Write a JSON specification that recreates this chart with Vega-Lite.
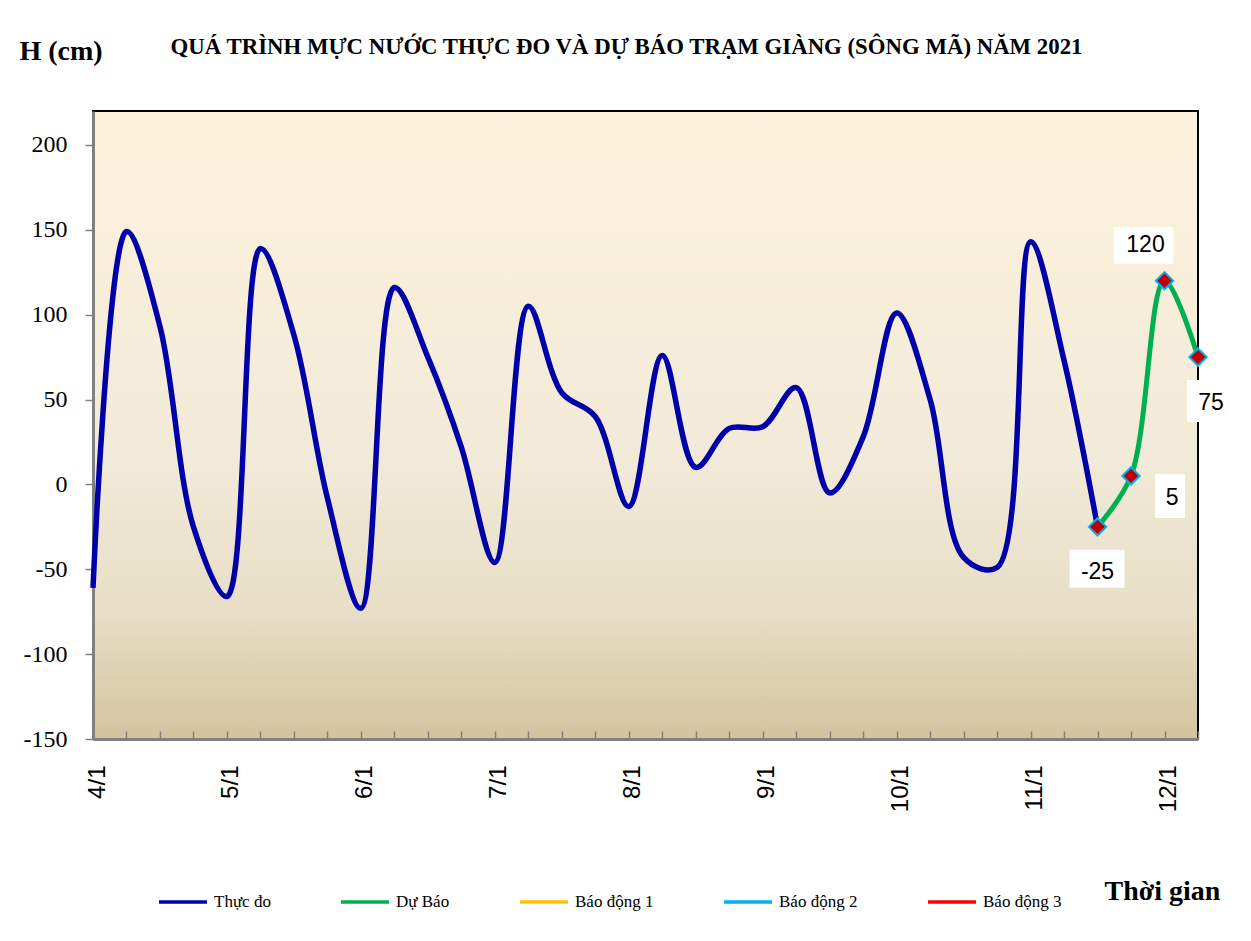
{
  "$schema": "https://vega.github.io/schema/vega-lite/v6.json",
  "width": 1105,
  "height": 628,
  "autosize": {"type": "none"},
  "padding": {"left": 93, "top": 111, "right": 53, "bottom": 202},
  "background": "white",
  "title": {
    "text": "QUÁ TRÌNH MỰC NƯỚC THỰC ĐO VÀ DỰ BÁO TRẠM GIÀNG (SÔNG MÃ) NĂM 2021",
    "font": "Liberation Serif",
    "fontSize": 22.8,
    "fontWeight": "bold",
    "color": "#000000",
    "anchor": "middle",
    "frame": "group",
    "offset": -22,
    "dx": -19
  },
  "config": {
    "view": {
      "stroke": "#000000",
      "strokeWidth": 2,
      "fill": {
        "gradient": "linear",
        "x1": 0, "y1": 0, "x2": 0, "y2": 1,
        "stops": [
          {"offset": 0, "color": "#FDF2DC"},
          {"offset": 0.55, "color": "#F2EAD8"},
          {"offset": 0.8, "color": "#E8DEC6"},
          {"offset": 1, "color": "#D3C49E"}
        ]
      }
    },
    "axis": {"grid": false}
  },
  "datasets": {
    "obs": [
      {"t": "2021-01-04T00:00:00", "h": -61, "s": "Thực đo"},
      {"t": "2021-01-04T06:00:00", "h": 149, "s": "Thực đo"},
      {"t": "2021-01-04T12:00:00", "h": 93, "s": "Thực đo"},
      {"t": "2021-01-04T18:00:00", "h": -25, "s": "Thực đo"},
      {"t": "2021-01-05T00:00:00", "h": -66, "s": "Thực đo"},
      {"t": "2021-01-05T06:00:00", "h": 139, "s": "Thực đo"},
      {"t": "2021-01-05T12:00:00", "h": 88, "s": "Thực đo"},
      {"t": "2021-01-05T18:00:00", "h": -8, "s": "Thực đo"},
      {"t": "2021-01-06T00:00:00", "h": -73, "s": "Thực đo"},
      {"t": "2021-01-06T06:00:00", "h": 116, "s": "Thực đo"},
      {"t": "2021-01-06T12:00:00", "h": 75, "s": "Thực đo"},
      {"t": "2021-01-06T18:00:00", "h": 22, "s": "Thực đo"},
      {"t": "2021-01-07T00:00:00", "h": -46, "s": "Thực đo"},
      {"t": "2021-01-07T06:00:00", "h": 105, "s": "Thực đo"},
      {"t": "2021-01-07T12:00:00", "h": 54, "s": "Thực đo"},
      {"t": "2021-01-07T18:00:00", "h": 40, "s": "Thực đo"},
      {"t": "2021-01-08T00:00:00", "h": -13, "s": "Thực đo"},
      {"t": "2021-01-08T06:00:00", "h": 76, "s": "Thực đo"},
      {"t": "2021-01-08T12:00:00", "h": 10, "s": "Thực đo"},
      {"t": "2021-01-08T18:00:00", "h": 33, "s": "Thực đo"},
      {"t": "2021-01-09T00:00:00", "h": 34, "s": "Thực đo"},
      {"t": "2021-01-09T06:00:00", "h": 57, "s": "Thực đo"},
      {"t": "2021-01-09T12:00:00", "h": -5, "s": "Thực đo"},
      {"t": "2021-01-09T18:00:00", "h": 28, "s": "Thực đo"},
      {"t": "2021-01-10T00:00:00", "h": 101, "s": "Thực đo"},
      {"t": "2021-01-10T06:00:00", "h": 50, "s": "Thực đo"},
      {"t": "2021-01-10T12:00:00", "h": -43, "s": "Thực đo"},
      {"t": "2021-01-10T18:00:00", "h": -49, "s": "Thực đo"},
      {"t": "2021-01-11T00:00:00", "h": 143, "s": "Thực đo"},
      {"t": "2021-01-11T06:00:00", "h": 73, "s": "Thực đo"},
      {"t": "2021-01-11T12:00:00", "h": -25, "s": "Thực đo"}
    ],
    "fc": [
      {"t": "2021-01-11T12:00:00", "h": -25, "s": "Dự Báo"},
      {"t": "2021-01-11T18:00:00", "h": 5, "s": "Dự Báo"},
      {"t": "2021-01-12T00:00:00", "h": 120, "s": "Dự Báo"},
      {"t": "2021-01-12T06:00:00", "h": 75, "s": "Dự Báo"}
    ]
  },
  "encoding": {
    "x": {
      "field": "t",
      "type": "temporal",
      "scale": {
        "domain": [
          {"year": 2021, "month": 1, "date": 4, "hours": 0},
          {"year": 2021, "month": 1, "date": 12, "hours": 6}
        ]
      },
      "axis": {
        "title": "Thời gian",
        "titleFont": "Liberation Serif",
        "titleFontSize": 28,
        "titleFontWeight": "bold",
        "titleColor": "#000000",
        "titleAngle": 0,
        "titleAlign": "left",
        "titleBaseline": "alphabetic",
        "titleX": 1011,
        "titleY": 160,
        "labelExpr": "hours(datum.value) == 0 ? timeFormat(datum.value, '%-d/%-m') : ''",
        "labelOverlap": false,
        "labelFlush": false,
        "labelAngle": 270,
        "labelAlign": "right",
        "labelBaseline": "middle",
        "labelFont": "Liberation Sans",
        "labelFontSize": 24,
        "labelColor": "#000000",
        "labelPadding": 34,
        "labelOffset": 4,
        "tickSize": -8,
        "tickColor": "#808080",
        "tickWidth": 1.5,
        "domainColor": "#808080",
        "domainWidth": 3
      }
    },
    "y": {
      "field": "h",
      "type": "quantitative",
      "scale": {"domain": [-150, 220], "nice": false, "zero": false},
      "axis": {
        "title": "H (cm)",
        "titleFont": "Liberation Serif",
        "titleFontSize": 28,
        "titleFontWeight": "bold",
        "titleColor": "#000000",
        "titleAngle": 0,
        "titleAlign": "left",
        "titleBaseline": "alphabetic",
        "titleX": -74,
        "titleY": -52,
        "values": [-150, -100, -50, 0, 50, 100, 150, 200],
        "labelExpr": "datum.value < 0 ? '-' + abs(datum.value) : '' + datum.value",
        "labelFont": "Liberation Serif",
        "labelFontSize": 24,
        "labelColor": "#000000",
        "labelPadding": 18,
        "tickSize": 8,
        "tickColor": "#808080",
        "tickWidth": 1.5,
        "domainColor": "#808080",
        "domainWidth": 3
      }
    }
  },
  "layer": [
    {
      "data": {"name": "obs"},
      "mark": {"type": "line", "interpolate": "catmull-rom", "strokeWidth": 5.5},
      "encoding": {
        "color": {
          "field": "s",
          "type": "nominal",
          "scale": {
            "domain": ["Thực đo", "Dự Báo", "Báo động 1", "Báo động 2", "Báo động 3"],
            "range": ["#0000A8", "#00B050", "#FFC000", "#00B0F0", "#FF0000"]
          },
          "legend": {
            "title": null,
            "orient": "none",
            "direction": "horizontal",
            "legendX": 64,
            "legendY": 765,
            "padding": 0,
            "symbolType": "stroke",
            "symbolSize": 2300,
            "symbolStrokeWidth": 3.5,
            "labelFont": "Liberation Serif",
            "labelFontSize": 17,
            "labelColor": "#000000",
            "labelOffset": 5,
            "columnPadding": 63
          }
        }
      }
    },
    {
      "data": {"name": "fc"},
      "mark": {"type": "line", "interpolate": "catmull-rom", "strokeWidth": 5},
      "encoding": {"color": {"field": "s", "type": "nominal"}}
    },
    {
      "data": {"name": "fc"},
      "transform": [{"filter": "datum.h == -25"}],
      "mark": {"type": "point", "filled": true, "fill": "#FFFFFF", "strokeWidth": 0, "opacity": 1, "size": 400, "shape": "M -2.8 2.3 L 2.7 2.3 L 2.7 6.1 L -2.8 6.1 Z"}
    },
    {
      "data": {"name": "fc"},
      "transform": [{"filter": "datum.h == 5"}],
      "mark": {"type": "point", "filled": true, "fill": "#FFFFFF", "strokeWidth": 0, "opacity": 1, "size": 400, "shape": "M 2.4 -0.2 L 5.4 -0.2 L 5.4 4.2 L 2.4 4.2 Z"}
    },
    {
      "data": {"name": "fc"},
      "transform": [{"filter": "datum.h == 120"}],
      "mark": {"type": "point", "filled": true, "fill": "#FFFFFF", "strokeWidth": 0, "opacity": 1, "size": 400, "shape": "M -5.1 -5.4 L 0.9 -5.4 L 0.9 -1.7 L -5.1 -1.7 Z"}
    },
    {
      "data": {"name": "fc"},
      "transform": [{"filter": "datum.h == 75"}],
      "mark": {"type": "point", "filled": true, "fill": "#FFFFFF", "strokeWidth": 0, "opacity": 1, "size": 400, "shape": "M -1.1 2.3 L 3 2.3 L 3 6.5 L -1.1 6.5 Z"}
    },
    {
      "data": {"name": "fc"},
      "mark": {"type": "point", "shape": "diamond", "filled": true, "fill": "#C00000", "stroke": "#00B0F0", "strokeWidth": 2, "opacity": 1, "size": 300}
    },
    {
      "data": {"name": "fc"},
      "transform": [{"filter": "datum.h == -25"}],
      "mark": {"type": "text", "font": "Liberation Sans", "fontSize": 23, "fill": "#000000", "dx": 0, "dy": 45, "align": "center", "baseline": "middle"},
      "encoding": {"text": {"field": "h", "type": "nominal"}}
    },
    {
      "data": {"name": "fc"},
      "transform": [{"filter": "datum.h == 5"}],
      "mark": {"type": "text", "font": "Liberation Sans", "fontSize": 23, "fill": "#000000", "dx": 41, "dy": 22, "align": "center", "baseline": "middle"},
      "encoding": {"text": {"field": "h", "type": "nominal"}}
    },
    {
      "data": {"name": "fc"},
      "transform": [{"filter": "datum.h == 120"}],
      "mark": {"type": "text", "font": "Liberation Sans", "fontSize": 23, "fill": "#000000", "dx": -19, "dy": -36, "align": "center", "baseline": "middle"},
      "encoding": {"text": {"field": "h", "type": "nominal"}}
    },
    {
      "data": {"name": "fc"},
      "transform": [{"filter": "datum.h == 75"}],
      "mark": {"type": "text", "font": "Liberation Sans", "fontSize": 23, "fill": "#000000", "dx": 13, "dy": 46, "align": "center", "baseline": "middle"},
      "encoding": {"text": {"field": "h", "type": "nominal"}}
    }
  ]
}
